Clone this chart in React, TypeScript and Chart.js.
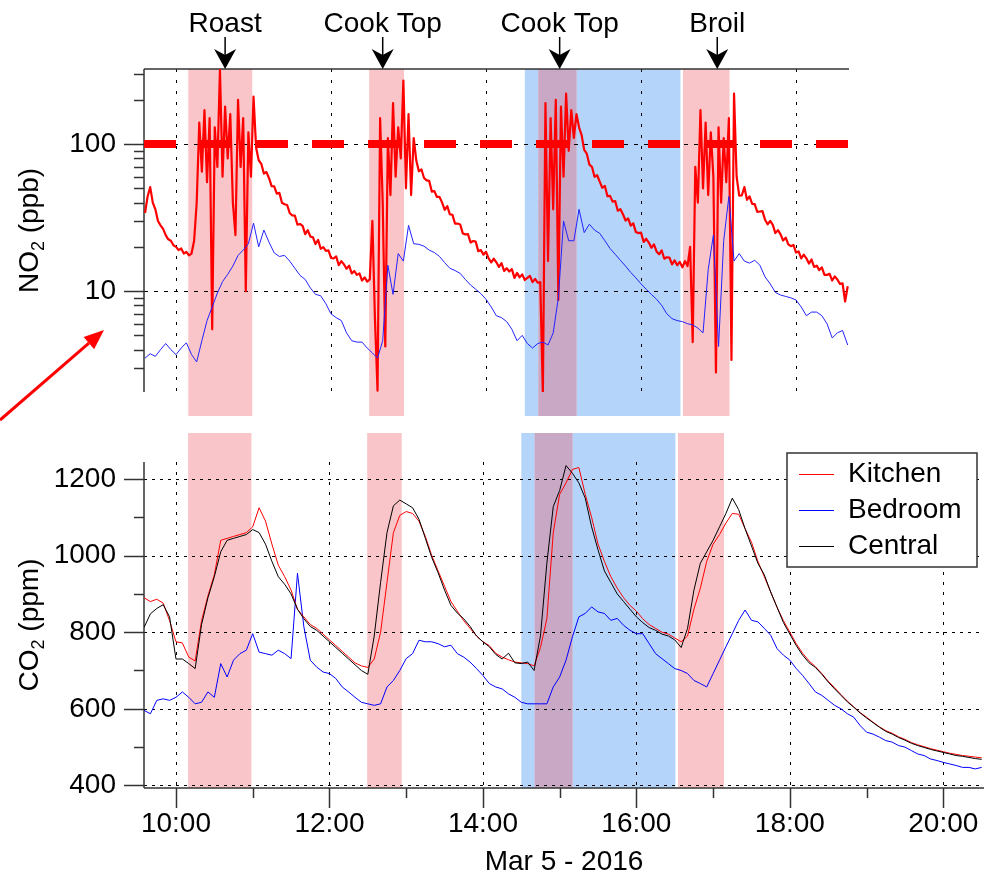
import React, { useEffect, useRef } from 'react';
import { Chart, registerables } from 'chart.js';

Chart.register(...registerables);

const FONT = '"Liberation Sans", Arial, Helvetica, sans-serif';
Chart.defaults.font.family = FONT;

// ---------- shared time axis (minutes after midnight) ----------
const timeMajorTicks = [600, 720, 840, 960, 1080, 1200];
const timeMinorTicks = [660, 780, 900, 1020, 1140];
const dateLabel = 'Mar 5 - 2016';

// cooking periods (pink) and ventilation period (blue)
const cookStart = [609.5, 749.5, 880.5, 992.5];
const cookEnd = [659, 776.5, 910, 1028.5];
const ventStart = [870];
const ventEnd = [990.5];

// event annotations above the NO2 panel
const eventLabels = ['Roast', 'Cook Top', 'Cook Top', 'Broil'];
const eventTimes = [638, 760, 897, 1019];

// ---------- NO2 panel ----------
const no2MajorTicks = [10, 100];
const no2MinorTicks = [3, 4, 5, 6, 7, 8, 9, 20, 30, 40, 50, 60, 70, 80, 90, 200, 300];
const no2Limit = 100;
const no2Title = ['NO', '2', ' (ppb)'];

const no2KitchenStart = 576;
const no2KitchenStep = 2;
const no2Kitchen = [
  // 576-608
  34, 44, 51, 40, 36, 30, 28, 26.5, 24, 22.5, 22, 20.5, 20, 19, 19.5, 18, 18.5,
  // 610-660 roast
  17.5, 18, 22, 40, 140, 65, 170, 55, 150, 5.5, 130, 70, 320, 60, 180, 80, 160, 40, 24, 200, 70, 150, 10, 120, 60, 210,
  // 662-748
  94.5, 77.6, 73.4, 63, 64.5, 58.6, 51.8, 51.5, 46, 46.6, 39.9, 39, 38.5, 34, 32.7, 32.6, 28.3, 28.6, 27.8, 24.4, 26, 23.5,
  23.2, 20.9, 22.3, 19.4, 19.9, 18.8, 18.9, 16.8, 16.7, 17.2, 15, 16, 15.2, 14.2, 14.9, 13.2, 13.7, 12.9, 13.2, 11.8, 12.4, 11.6,
  // 750-778 cook top
  12, 30, 6.5, 2.1, 150, 40, 4.2, 110, 45, 190, 60, 130, 80, 270, 50,
  // 780-784
  160, 45, 110,
  // 786-880
  77.3, 65.3, 67.2, 58.8, 56.6, 56.2, 47.5, 47.9, 43.7, 43.7, 40, 35.7, 37.8, 33.3, 33, 28.8, 28.8, 28.4, 24.7, 24.3, 24.4, 21.4, 21.9, 21.7,
  18.7, 19, 17.7, 18.5, 16.7, 15.7, 16.6, 15.7, 14.6, 15.5, 13.7, 14.3, 13.6, 14.1, 12.3, 13.3, 12.4, 13, 11.9, 12.3, 12.7, 11.5, 12.1, 11.4,
  // 882-912 cook top
  11.5, 2.0, 190, 16, 150, 36, 200, 8.7, 180, 60, 220, 90, 170, 110, 160, 130,
  // 914-990
  115, 91.2, 86.1, 72.5, 70, 59.9, 61.4, 55.6, 50.4, 51.9, 44.2, 44.4, 40.6, 41, 35.2, 36.1, 33.3, 30.2, 31.2, 27.9,
  28.9, 25.2, 24.8, 25, 21.6, 22.7, 21.4, 19.7, 20.8, 18.6, 17.8, 18.9, 16.6, 17, 16.9, 15.2, 16.2, 15, 15.8,
  // 992-1034 broil
  14.5, 16, 14.8, 20, 4.5, 70, 40, 170, 50, 140, 45, 120, 60, 2.8, 130, 40, 110, 55, 150, 3.4, 220, 60,
  // 1036-1120
  44.6, 44.7, 51, 41.8, 44.1, 39.2, 39.1, 34.6, 34.8, 35, 30.6, 28.5, 30, 28.2, 24.8, 26, 24.3, 22.1, 23.1, 20.8, 20.2, 20.6,
  18.3, 18.6, 16.7, 17.7, 16.7, 15.4, 16.4, 14.6, 14.9, 13.9, 14.5, 12.9, 12.9, 13.1, 11.8, 12.6, 12, 11.2, 11.3, 8.5, 10.8,
];

const no2BedroomStart = 576;
const no2BedroomStep = 4;
const no2Bedroom = [
  3.5, 3.75, 3.6, 4.0, 4.4, 4.0, 3.7, 4.1, 4.45, 3.7,
  3.3, 4.6, 6.3, 7.8, 9.7, 11.6, 13, 14.8, 17.5, 19,
  21, 29, 20, 26, 21.5, 18.2, 17.2, 17.5, 16, 14.3,
  12.8, 12, 10.5, 9.5, 9.3, 8.2, 7, 6.6, 6.3, 5.2,
  4.6, 4.5, 4.5, 4.1, 3.8, 3.5, 4.6, 15, 9.5, 18,
  16, 28, 21, 20.8, 20.2, 19, 18.3, 17.2, 15.6, 14.3,
  13.8, 13.2, 12, 11, 10.3, 9.6, 8.8, 7.8, 6.8, 6.6,
  6.2, 5.5, 4.6, 5, 4.4, 4.1, 4.4, 4.5, 4.3, 5.2,
  9, 30, 22, 22, 36, 25, 28.5, 26, 24.7, 22,
  19.5, 17.8, 16.2, 14.8, 13.4, 12.3, 11.2, 10.3, 9.5, 8.8,
  8, 7, 6.5, 6.3, 6.2, 6.0, 5.9, 5.6, 5.2, 14,
  24, 4.2, 22, 44, 16, 18, 16, 15.5, 16.2, 15,
  12.5, 11.2, 9.8, 9.4, 9.2, 9, 8.7, 7.8, 6.8, 7.2,
  7.2, 6.8, 6, 4.8, 5.2, 5.4, 4.3,
];

// ---------- CO2 panel ----------
const co2MajorTicks = [400, 600, 800, 1000, 1200];
const co2MinorTicks = [500, 700, 900, 1100];
const co2Title = ['CO', '2', ' (ppm)'];
const seriesNames = ['Kitchen', 'Bedroom', 'Central'];

const co2Start = 575;
const co2Step = 5;
const co2Kitchen = [
  890, 880, 886, 876, 830, 775, 772, 735, 725, 830,
  895, 950, 1040, 1045, 1050, 1055, 1060, 1075, 1125, 1090,
  1030, 975, 945, 910, 860, 840, 820, 810, 795, 780,
  765, 750, 735, 720, 712, 708, 730, 800, 930, 1060,
  1105, 1115, 1110, 1090, 1050, 1000, 960, 920, 880, 855,
  830, 810, 790, 775, 765, 745, 735, 728, 722, 720,
  718, 712, 760, 835, 1060, 1160, 1190, 1225, 1230, 1160,
  1100, 1030, 985, 945, 915, 890, 870, 855, 835, 820,
  810, 800, 795, 785, 775, 790, 860, 915, 985, 1030,
  1055, 1085, 1110, 1108, 1070, 1035, 985, 945, 905, 865,
  830, 800, 770, 745, 725, 710, 692, 672, 655, 637,
  620, 605, 590, 578, 565, 553, 543, 536, 527, 520,
  512, 506, 501, 496, 492, 488, 484, 481, 478, 476,
  474, 472,
];
const co2Central = [
  812, 848, 862, 872, 840, 730, 730, 718, 705, 820,
  890, 945, 1010, 1040, 1045, 1050, 1055, 1068, 1060, 1030,
  985, 945, 925, 900, 860, 835, 815, 805, 790, 775,
  760, 745, 730, 715, 700, 690, 790, 930, 1060, 1130,
  1145, 1135, 1125, 1095, 1045, 995, 955, 910, 870, 850,
  835, 815, 790, 775, 762, 742, 730, 745, 720, 718,
  722, 700, 790, 980, 1128, 1170, 1235, 1215, 1190, 1150,
  1075, 1015, 960, 930, 900, 880, 860, 840, 825, 812,
  805, 795, 790, 780, 760, 810, 910, 980, 1010, 1040,
  1075, 1110, 1150, 1120, 1070, 1025, 980, 950, 905, 865,
  825, 795, 765, 740, 720, 708, 690, 670, 652, 635,
  618, 604, 589, 576, 564, 552, 541, 534, 525, 518,
  510, 504, 499, 494, 490, 486, 482, 478, 476, 473,
  470, 468,
];
const co2Bedroom = [
  596, 587, 622, 626, 622, 630, 644, 630, 613, 617,
  644, 630, 718, 683, 727, 744, 753, 796, 748, 744,
  740, 753, 744, 731, 954, 814, 727, 709, 696, 692,
  679, 657, 644, 630, 617, 613, 609, 613, 657, 674,
  700, 731, 744, 779, 775, 775, 770, 762, 766, 744,
  735, 722, 705, 687, 666, 657, 652, 639, 630, 617,
  613, 613, 613, 613, 657, 683, 727, 788, 840, 849,
  866, 853, 849, 831, 836, 818, 805, 796, 796, 770,
  744, 731, 718, 705, 700, 692, 674, 666, 657, 692,
  727, 762, 796, 831, 858, 831, 827, 810, 792, 757,
  740, 727, 705, 687, 666, 644, 635, 622, 609, 600,
  587, 578, 556, 539, 534, 526, 517, 513, 504, 500,
  491, 482, 478, 469, 465, 460, 456, 452, 447, 447,
  443, 447,
];

// ---------- styling ----------
const RED = '#ff0000';
const BLUE = '#0000ff';
const BLACK = '#000000';
const COOK = 'rgb(250,197,200)';
const VENT = 'rgb(181,212,250)';
const BOTH = 'rgb(201,168,198)';
const AXIS = '#333333';

const toPoints = (start: number, step: number, vals: number[]) =>
  vals.map((v, i) => ({ x: start + i * step, y: v }));

const fmtTime = (m: number) => `${Math.floor(m / 60)}:${String(Math.round(m % 60)).padStart(2, '0')}`;

function seg(ctx: CanvasRenderingContext2D, x1: number, y1: number, x2: number, y2: number) {
  ctx.beginPath();
  ctx.moveTo(x1, y1);
  ctx.lineTo(x2, y2);
  ctx.stroke();
}

const shadePlugin = (above: number, below: number) => ({
  id: 'shade',
  beforeDraw(chart: any) {
    const { ctx, chartArea: a } = chart;
    const x = chart.scales.x;
    const top = a.top - above;
    const bottom = a.bottom + below;
    ctx.save();
    const fill = (s: number, e: number, c: string) => {
      const x1 = x.getPixelForValue(s);
      const x2 = x.getPixelForValue(e);
      ctx.fillStyle = c;
      ctx.fillRect(x1, top, x2 - x1, bottom - top);
    };
    ventStart.forEach((s, i) => fill(s, ventEnd[i], VENT));
    cookStart.forEach((s, i) => {
      fill(s, cookEnd[i], COOK);
      ventStart.forEach((vs, j) => {
        const s2 = Math.max(s, vs);
        const e2 = Math.min(cookEnd[i], ventEnd[j]);
        if (e2 > s2) fill(s2, e2, BOTH);
      });
    });
    ctx.restore();
  },
});

type FrameOpts = {
  yMajor: number[];
  yMinor: number[];
  hDash: number[];
  vDash: number[];
  topLine: boolean;
  bottomAxis: boolean;
};

const framePlugin = (o: FrameOpts) => ({
  id: 'frame',
  beforeDatasetsDraw(chart: any) {
    const { ctx, chartArea: a } = chart;
    const x = chart.scales.x;
    const y = chart.scales.y;
    ctx.save();
    ctx.strokeStyle = '#000';
    ctx.lineWidth = 1;
    ctx.setLineDash(o.vDash);
    timeMajorTicks.forEach((t) => {
      const px = Math.round(x.getPixelForValue(t)) + 0.5;
      if (px > a.left + 1 && px < a.right) seg(ctx, px, a.top, px, a.bottom);
    });
    ctx.setLineDash(o.hDash);
    o.yMajor.forEach((v) => {
      const py = Math.round(y.getPixelForValue(v)) + 0.5;
      seg(ctx, a.left, py, a.right, py);
    });
    ctx.setLineDash([]);
    ctx.strokeStyle = AXIS;
    ctx.lineWidth = 1.5;
    seg(ctx, a.left, a.top, a.left, a.bottom);
    if (o.topLine) seg(ctx, a.left, a.top, a.right, a.top);
    o.yMajor.forEach((v) => {
      const py = Math.round(y.getPixelForValue(v)) + 0.5;
      seg(ctx, a.left - 20, py, a.left, py);
    });
    o.yMinor.forEach((v) => {
      const py = Math.round(y.getPixelForValue(v)) + 0.5;
      seg(ctx, a.left - 10, py, a.left, py);
    });
    if (o.bottomAxis) {
      seg(ctx, a.left, a.bottom, a.right, a.bottom);
      timeMajorTicks.forEach((t) => {
        const px = Math.round(x.getPixelForValue(t)) + 0.5;
        seg(ctx, px, a.bottom, px, a.bottom + 20);
      });
      timeMinorTicks.forEach((t) => {
        const px = Math.round(x.getPixelForValue(t)) + 0.5;
        seg(ctx, px, a.bottom, px, a.bottom + 10);
      });
    }
    ctx.restore();
  },
});

function drawSubTitle(ctx: CanvasRenderingContext2D, baseX: number, cy: number, parts: string[]) {
  ctx.save();
  ctx.translate(baseX, cy);
  ctx.rotate(-Math.PI / 2);
  const big = `28px ${FONT}`;
  const small = `18px ${FONT}`;
  ctx.font = big;
  const w1 = ctx.measureText(parts[0]).width;
  const w3 = ctx.measureText(parts[2]).width;
  ctx.font = small;
  const w2 = ctx.measureText(parts[1]).width;
  let u = -(w1 + w2 + w3) / 2;
  ctx.fillStyle = '#000';
  ctx.textBaseline = 'alphabetic';
  ctx.textAlign = 'left';
  ctx.font = big;
  ctx.fillText(parts[0], u, 0);
  u += w1;
  ctx.font = small;
  ctx.fillText(parts[1], u, 6);
  u += w2;
  ctx.font = big;
  ctx.fillText(parts[2], u, 0);
  ctx.restore();
}

const topOverlay = {
  id: 'topOverlay',
  afterDraw(chart: any) {
    const { ctx, chartArea: a } = chart;
    const x = chart.scales.x;
    ctx.save();
    drawSubTitle(ctx, 37.5, (a.top + a.bottom) / 2, no2Title);
    // event annotations
    ctx.fillStyle = '#000';
    ctx.strokeStyle = '#000';
    ctx.font = `28px ${FONT}`;
    ctx.textAlign = 'center';
    ctx.textBaseline = 'alphabetic';
    eventLabels.forEach((lab, i) => {
      const px = x.getPixelForValue(eventTimes[i]);
      ctx.fillText(lab, px, 32);
      ctx.lineWidth = 1.5;
      seg(ctx, px, 37, px, a.top - 10);
      ctx.beginPath();
      ctx.moveTo(px, a.top);
      ctx.lineTo(px - 11, a.top - 20);
      ctx.lineTo(px, a.top - 14);
      ctx.lineTo(px + 11, a.top - 20);
      ctx.closePath();
      ctx.fill();
    });
    // red pointer arrow
    const tx = 104;
    const ty = 330;
    const sx = 0;
    const sy = 420;
    const ang = Math.atan2(ty - sy, tx - sx);
    const hl = 20;
    const hw = 8;
    const bx = tx - hl * Math.cos(ang);
    const by = ty - hl * Math.sin(ang);
    ctx.strokeStyle = RED;
    ctx.fillStyle = RED;
    ctx.lineWidth = 3;
    seg(ctx, sx, sy, bx, by);
    ctx.beginPath();
    ctx.moveTo(tx, ty);
    ctx.lineTo(bx + hw * Math.sin(ang), by - hw * Math.cos(ang));
    ctx.lineTo(bx - hw * Math.sin(ang), by + hw * Math.cos(ang));
    ctx.closePath();
    ctx.fill();
    ctx.restore();
  },
};

const bottomOverlay = {
  id: 'bottomOverlay',
  afterDraw(chart: any) {
    const { ctx, chartArea: a } = chart;
    ctx.save();
    drawSubTitle(ctx, 37.5, (a.top + a.bottom) / 2, co2Title);
    ctx.fillStyle = '#000';
    ctx.font = `28px ${FONT}`;
    ctx.textAlign = 'center';
    ctx.textBaseline = 'alphabetic';
    ctx.fillText(dateLabel, (a.left + a.right) / 2, a.bottom + 82);
    // legend
    const bx = a.right - 197;
    const by = a.top - 9;
    const bw = 190;
    const bh = 114;
    ctx.fillStyle = '#fff';
    ctx.fillRect(bx, by, bw, bh);
    ctx.strokeStyle = AXIS;
    ctx.lineWidth = 1.5;
    ctx.strokeRect(bx, by, bw, bh);
    const cols = [RED, BLUE, BLACK];
    ctx.textAlign = 'left';
    ctx.textBaseline = 'middle';
    seriesNames.forEach((name, i) => {
      const cy = by + 21 + i * 36;
      ctx.strokeStyle = cols[i];
      ctx.lineWidth = 1;
      seg(ctx, bx + 12, cy + 0.5, bx + 47, cy + 0.5);
      ctx.fillStyle = '#000';
      ctx.fillText(name, bx + 61, cy);
    });
    ctx.restore();
  },
};

const lineBase = {
  pointRadius: 0,
  tension: 0,
  fill: false,
  borderJoinStyle: 'round' as const,
};

export default function App() {
  const topRef = useRef<HTMLCanvasElement>(null);
  const botRef = useRef<HTMLCanvasElement>(null);

  useEffect(() => {
    const tickFont = { family: FONT, size: 28 };
    const topChart = new Chart(topRef.current as HTMLCanvasElement, {
      type: 'line',
      data: {
        datasets: [
          { ...lineBase, label: 'Bedroom', data: toPoints(no2BedroomStart, no2BedroomStep, no2Bedroom), borderColor: '#2222ff', borderWidth: 1 },
          { ...lineBase, label: 'Kitchen', data: toPoints(no2KitchenStart, no2KitchenStep, no2Kitchen), borderColor: RED, borderWidth: 2.2 },
          {
            ...lineBase,
            label: 'Limit',
            data: [{ x: 575.2, y: no2Limit }, { x: 1121, y: no2Limit }],
            borderColor: RED,
            borderWidth: 8,
            borderDash: [32, 24],
            borderCapStyle: 'butt',
          },
        ],
      },
      options: {
        responsive: false,
        animation: false,
        devicePixelRatio: 1,
        events: [],
        layout: { padding: { left: 0, top: 69, right: 135, bottom: 33 } },
        plugins: { legend: { display: false }, tooltip: { enabled: false } },
        scales: {
          x: { type: 'linear', min: 575.2, max: 1121, display: false },
          y: {
            type: 'logarithmic',
            min: 2.06,
            max: 324,
            afterBuildTicks: (s: any) => {
              s.ticks = no2MajorTicks.map((v) => ({ value: v }));
            },
            afterFit: (s: any) => {
              s.width = 144;
            },
            grid: { display: false, drawTicks: true, tickLength: 28 },
            border: { display: false },
            ticks: { padding: 0, color: '#000', font: tickFont, autoSkip: false, callback: (v: any) => String(v) },
          },
        },
      } as any,
      plugins: [
        shadePlugin(0, 24),
        framePlugin({ yMajor: no2MajorTicks, yMinor: no2MinorTicks, hDash: [4, 6], vDash: [3, 8], topLine: true, bottomAxis: false }),
        topOverlay,
      ],
    });

    const botChart = new Chart(botRef.current as HTMLCanvasElement, {
      type: 'line',
      data: {
        datasets: [
          { ...lineBase, label: seriesNames[2], data: toPoints(co2Start, co2Step, co2Central), borderColor: BLACK, borderWidth: 1 },
          { ...lineBase, label: seriesNames[0], data: toPoints(co2Start, co2Step, co2Kitchen), borderColor: RED, borderWidth: 1 },
          { ...lineBase, label: seriesNames[1], data: toPoints(co2Start, co2Step, co2Bedroom), borderColor: BLUE, borderWidth: 1 },
        ],
      },
      options: {
        responsive: false,
        animation: false,
        devicePixelRatio: 1,
        events: [],
        layout: { padding: { left: 0, top: 37, right: 0, bottom: 25 } },
        plugins: { legend: { display: false }, tooltip: { enabled: false } },
        scales: {
          x: {
            type: 'linear',
            min: 575,
            max: 1231.8,
            afterBuildTicks: (s: any) => {
              s.ticks = timeMajorTicks.map((v) => ({ value: v }));
            },
            afterFit: (s: any) => {
              s.height = 60;
            },
            grid: { display: false, drawTicks: true, tickLength: 19 },
            border: { display: false },
            ticks: { padding: 0, color: '#000', font: tickFont, autoSkip: false, maxRotation: 0, callback: (v: any) => fmtTime(Number(v)) },
          },
          y: {
            type: 'linear',
            min: 393.2,
            max: 1244.4,
            afterBuildTicks: (s: any) => {
              s.ticks = co2MajorTicks.map((v) => ({ value: v }));
            },
            afterFit: (s: any) => {
              s.width = 144;
            },
            grid: { display: false, drawTicks: true, tickLength: 28 },
            border: { display: false },
            ticks: { padding: 0, color: '#000', font: tickFont, autoSkip: false, callback: (v: any) => String(v) },
          },
        },
      } as any,
      plugins: [
        shadePlugin(29, 0),
        framePlugin({ yMajor: co2MajorTicks, yMinor: co2MinorTicks, hDash: [3, 5], vDash: [3, 7], topLine: false, bottomAxis: true }),
        bottomOverlay,
      ],
    });

    return () => {
      topChart.destroy();
      botChart.destroy();
    };
  }, []);

  return (
    <div style={{ position: 'absolute', left: 0, top: 0, width: 984, height: 873, background: '#fff', overflow: 'hidden' }}>
      <canvas ref={topRef} width={984} height={425} style={{ position: 'absolute', left: 0, top: 0 }} />
      <canvas ref={botRef} width={984} height={448} style={{ position: 'absolute', left: 0, top: 425 }} />
    </div>
  );
}
